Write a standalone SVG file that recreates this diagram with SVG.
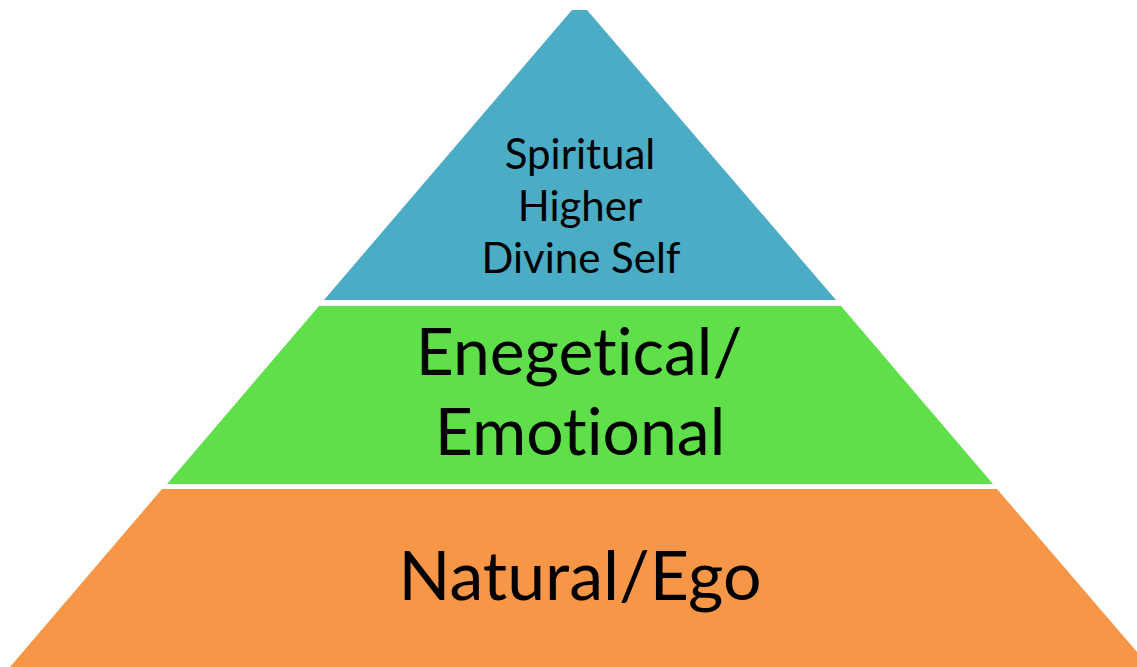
<svg xmlns="http://www.w3.org/2000/svg" width="1137" height="667" viewBox="0 0 1137 667">
<style>
text{font-family:Lato,"Open Sans","Liberation Sans",sans-serif;fill:#000;text-anchor:middle;font-variant-ligatures:none}
.t1{font-size:42px}
.t2{font-size:66px}
.t3{font-size:68px}
</style>
<rect width="1137" height="667" fill="#fff"/>
<g id="tier-spiritual">
<polygon points="572,10 587,10 836,300 324,300" fill="#4BACC6"/>
<text class="t1" x="580" y="169">Spiritual</text>
<text class="t1" x="580" y="221">Higher</text>
<text class="t1" x="581" y="273">Divine Self</text>
</g>
<g id="tier-emotional">
<polygon points="319,306 841,306 993,484 167,484" fill="#5FE04A"/>
<text class="t2" x="579" y="375">Enegetical/</text>
<text class="t2" x="580" y="455">Emotional</text>
</g>
<g id="tier-ego">
<polygon points="162,489 997,489 1150,667 10,667" fill="#F79646"/>
<text class="t3" x="580" y="600">Natural/Ego</text>
</g>
<g id="connectors"/>
</svg>
